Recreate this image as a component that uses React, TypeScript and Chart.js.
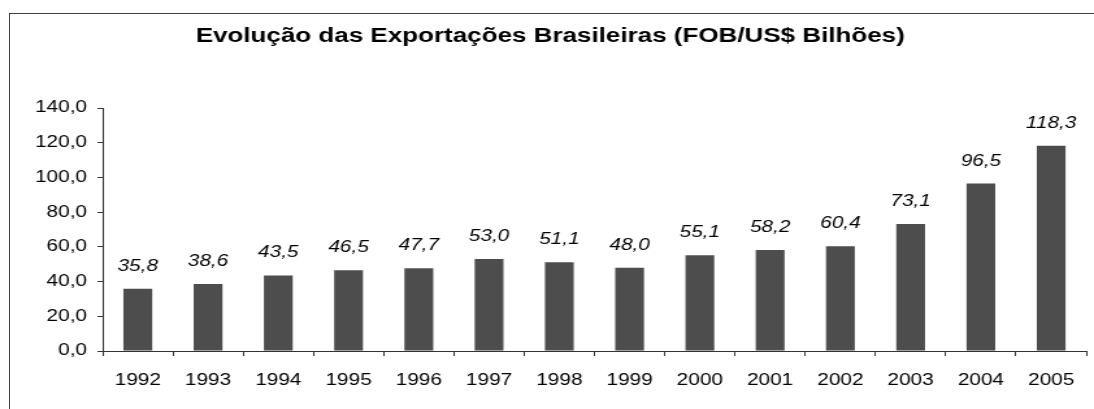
import React, { useEffect, useRef } from "react";
import { Chart, registerables } from "chart.js";

Chart.register(...registerables);

const TITLE = "Evolução das Exportações Brasileiras (FOB/US$ Bilhões)";
const YEARS = ["1992", "1993", "1994", "1995", "1996", "1997", "1998", "1999", "2000", "2001", "2002", "2003", "2004", "2005"];
const EXPORTS = [35.8, 38.6, 43.5, 46.5, 47.7, 53.0, 51.1, 48.0, 55.1, 58.2, 60.4, 73.1, 96.5, 118.3];
const Y_MIN = 0;
const Y_MAX = 140;
const Y_STEP = 20;

const FONT = "'Liberation Sans', Arial, Helvetica, sans-serif";
const fmt = (v: number) => Number(v).toFixed(1).replace(".", ",");

// Reference is horizontally stretched; draw narrower and stretch with CSS.
const OUT_W = 1094;
const OUT_H = 409;
const IN_W = 842;

const valueLabels = {
  id: "valueLabels",
  afterDatasetsDraw(chart: any) {
    const ctx = chart.ctx;
    const meta = chart.getDatasetMeta(0);
    const data = chart.data.datasets[0].data;
    ctx.save();
    ctx.font = `italic 16px ${FONT}`;
    ctx.fillStyle = "#000";
    ctx.textAlign = "center";
    ctx.textBaseline = "alphabetic";
    meta.data.forEach((bar: any, i: number) => {
      ctx.fillText(fmt(data[i]), bar.x, bar.y - 18);
    });
    ctx.restore();
  },
};

export default function App() {
  const ref = useRef<HTMLCanvasElement>(null);
  useEffect(() => {
    if (!ref.current) return;
    const chart = new Chart(ref.current, {
      type: "bar",
      data: {
        labels: YEARS,
        datasets: [
          {
            data: EXPORTS,
            backgroundColor: "#4d4d4d",
            borderWidth: 0,
            categoryPercentage: 1,
            barPercentage: 0.41,
          },
        ],
      },
      options: {
        responsive: false,
        animation: false,
        devicePixelRatio: 1,
        layout: { padding: { left: 10, right: 5, top: 0, bottom: 0 } },
        plugins: {
          legend: { display: false },
          tooltip: { enabled: false },
          title: {
            display: true,
            text: TITLE,
            color: "#000",
            font: { family: FONT, size: 20, weight: "bold" },
            padding: { top: 24, bottom: 60 },
          },
        },
        scales: {
          x: {
            grid: { drawOnChartArea: false, drawTicks: true, tickLength: 5, color: "#333", offset: true },
            border: { display: true, color: "#333" },
            ticks: { color: "#000", font: { family: FONT, size: 16 }, padding: 15, maxRotation: 0, autoSkip: false },
            afterFit: (s: any) => {
              s.height = 58;
            },
          },
          y: {
            min: Y_MIN,
            max: Y_MAX,
            grid: { drawOnChartArea: false, drawTicks: true, tickLength: 4, color: "#333" },
            border: { display: true, color: "#333" },
            ticks: {
              stepSize: Y_STEP,
              color: "#000",
              font: { family: FONT, size: 16 },
              padding: 8,
              callback: (v: any) => fmt(v),
            },
            afterFit: (s: any) => {
              s.width = 69;
            },
          },
        },
      },
      plugins: [valueLabels],
    });
    return () => chart.destroy();
  }, []);

  return (
    <div style={{ position: "fixed", left: 0, top: 0, width: OUT_W, height: OUT_H, background: "#fff", overflow: "hidden" }}>
      <canvas
        ref={ref}
        width={IN_W}
        height={OUT_H}
        style={{ position: "absolute", left: 0, top: 0, width: OUT_W + "px", height: OUT_H + "px", display: "block" }}
      />
      <div
        style={{
          position: "absolute",
          left: 9,
          top: 13,
          width: OUT_W,
          height: OUT_H,
          borderLeft: "1px solid #404040",
          borderTop: "1px solid #404040",
          pointerEvents: "none",
        }}
      />
    </div>
  );
}
